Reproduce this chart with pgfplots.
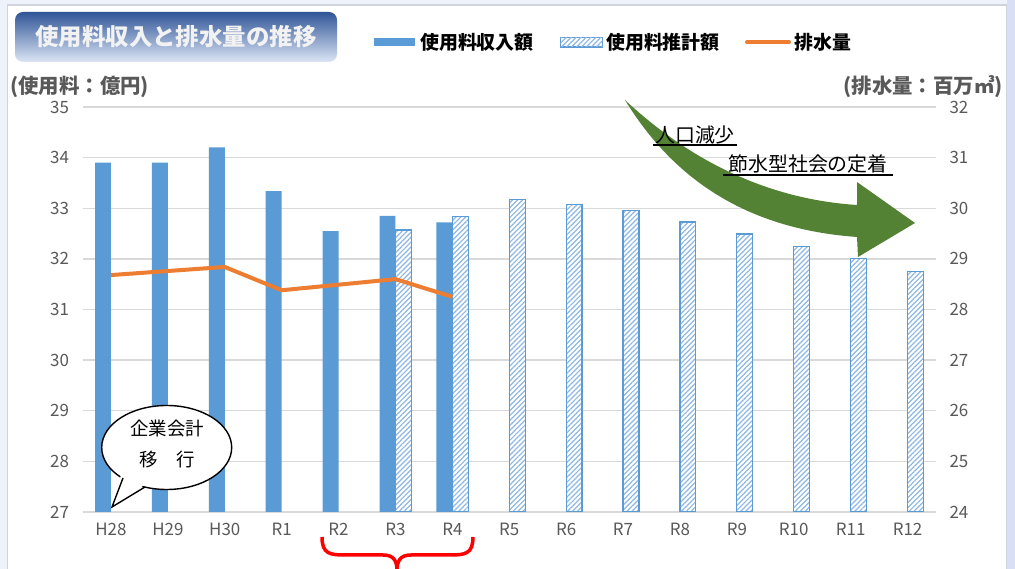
\documentclass[border=0pt]{standalone}
\usepackage{pgfplots}
\pgfplotsset{compat=1.18}
\usepackage{fontspec}
\setmainfont{Noto Sans CJK JP}
\usetikzlibrary{patterns.meta}

\definecolor{barblue}{HTML}{5B9BD5}
\definecolor{hatchc}{HTML}{8DB8E3}
\definecolor{orangec}{HTML}{ED7D31}
\definecolor{greenc}{HTML}{548235}
\definecolor{gridc}{HTML}{D9D9D9}
\definecolor{tickc}{HTML}{595959}
\definecolor{bgc}{HTML}{EEF2FB}
\definecolor{bgr}{HTML}{D9DFF4}
\definecolor{framec}{HTML}{D0D4DC}
\definecolor{ttop}{HTML}{2F5597}
\definecolor{tbot}{HTML}{DCE5F5}

\begin{document}
\begin{tikzpicture}[x=1bp,y=1bp]
\useasboundingbox (0,0) rectangle (1015,569);
\fill[bgc] (0,0) rectangle (1015,569);
\fill[bgr] (1007,0) rectangle (1015,569);
\draw[fill=white, draw=framec, line width=1.5bp] (7.5,-5) rectangle (1006.5,564);

% title box
\shade[rounded corners=8bp, top color=ttop, bottom color=tbot] (15,507) rectangle (337,557);
\node[text=white!90!gray, font=\fontsize{23.5}{23.5}\selectfont\bfseries] at (176,532) {使用料収入と排水量の推移};

% legend
\fill[barblue] (374,522.5) rectangle (415,530.5);
\node[anchor=west, inner sep=0, font=\fontsize{19}{19}\selectfont\bfseries] at (420,527) {使用料収入額};
\draw[draw=barblue, line width=1.2bp, fill=white, postaction={pattern={Lines[angle=45,distance=3.5bp,line width=1.2bp]}, pattern color=hatchc}] (560.5,522) rectangle (602.5,531.5);
\node[anchor=west, inner sep=0, font=\fontsize{19}{19}\selectfont\bfseries] at (606,527) {使用料推計額};
\draw[orangec, line width=4bp, line cap=round] (747,527) -- (789,527);
\node[anchor=west, inner sep=0, font=\fontsize{19}{19}\selectfont\bfseries] at (794,527) {排水量};

% axis titles
\node[anchor=west, inner sep=0, text=tickc, font=\fontsize{20.5}{20.5}\selectfont\bfseries] at (10,482) {(使用料：億円)};
\node[anchor=east, inner sep=0, text=tickc, font=\fontsize{20.5}{20.5}\selectfont\bfseries] at (1003,482) {(排水量：百万㎥)};

\begin{axis}[
    at={(82.5bp,57bp)}, anchor=south west,
    width=853.5bp, height=405bp, scale only axis,
    xmin=-0.5, xmax=14.5, ymin=27, ymax=35,
    xtick={0,...,14},
    xticklabels={H28,H29,H30,R1,R2,R3,R4,R5,R6,R7,R8,R9,R10,R11,R12},
    ytick={27,...,35},
    major tick length=0pt,
    axis line style={draw=none},
    ymajorgrids, grid style={draw=gridc, line width=1.3bp},
    ticklabel style={font=\fontsize{17}{17}\selectfont, text=tickc},
    /pgf/number format/assume math mode=true,
    yticklabel style={xshift=-10bp},
    xticklabel style={yshift=-8bp},
    ybar, bar width=0.28,
]
% 使用料収入額
\addplot[fill=barblue, draw=none, bar shift=-0.14] coordinates {
(0,33.9)(1,33.9)(2,34.2)(3,33.34)(4,32.55)(5,32.85)(6,32.72)
};
% 使用料推計額
\addplot[fill=white, draw=barblue, line width=1.2bp, bar shift=0.14,
    postaction={pattern={Lines[angle=45,distance=3.5bp,line width=1.2bp]}, pattern color=hatchc}] coordinates {
(5,32.57)(6,32.83)(7,33.18)(8,33.07)(9,32.96)(10,32.73)(11,32.49)(12,32.25)(13,32.0)(14,31.75)
};
\end{axis}

\begin{axis}[
    at={(82.5bp,57bp)}, anchor=south west,
    width=853.5bp, height=405bp, scale only axis,
    xmin=-0.5, xmax=14.5, ymin=24, ymax=32,
    ytick={24,...,32},
    axis x line=none, axis y line*=right,
    major tick length=0pt,
    axis line style={draw=none},
    ticklabel style={font=\fontsize{17}{17}\selectfont, text=tickc},
    /pgf/number format/assume math mode=true,
    yticklabel style={xshift=10bp},
]
% 排水量
\addplot[color=orangec, line width=4bp, mark=none] coordinates {
(0,28.68)(1,28.76)(2,28.84)(3,28.38)(4,28.49)(5,28.6)(6,28.25)
};
\end{axis}

% green arrow
\fill[greenc] (625,469) .. controls (700,399) and (780,369) .. (857,364)
  -- (857,387) -- (915,346) -- (858,312) -- (857,332)
  .. controls (760,339) and (680,379) .. (625,469) -- cycle;
\node[font=\fontsize{20}{20}\selectfont] at (695,434) {人口減少};
\draw[line width=1.3bp] (653,424) -- (737,424);
\node[font=\fontsize{20}{20}\selectfont] at (808,405) {節水型社会の定着};
\draw[line width=1.3bp] (723,394) -- (893,394);

% speech bubble
\draw[fill=white, line width=1.4bp] (166.7,121.5) ellipse [x radius=65, y radius=42];
\fill[white] (121,94) -- (112,62) -- (147,86) -- cycle;
\draw[line width=1.4bp, line join=miter] (123,91) -- (112,62) -- (145,82);
\node[font=\fontsize{18.5}{18.5}\selectfont] at (167,140) {企業会計};
\node[font=\fontsize{18.5}{18.5}\selectfont] at (167,109) {移　行};

% red brace
\draw[red, line width=3.5bp] (322,32) .. controls (322,15) and (330,14) .. (345,14) -- (383,14)
  .. controls (394,14) and (397,8) .. (397,-2);
\draw[red, line width=3.5bp] (473,32) .. controls (473,15) and (465,14) .. (450,14) -- (411,14)
  .. controls (400,14) and (397,8) .. (397,-2);
\end{tikzpicture}
\end{document}
